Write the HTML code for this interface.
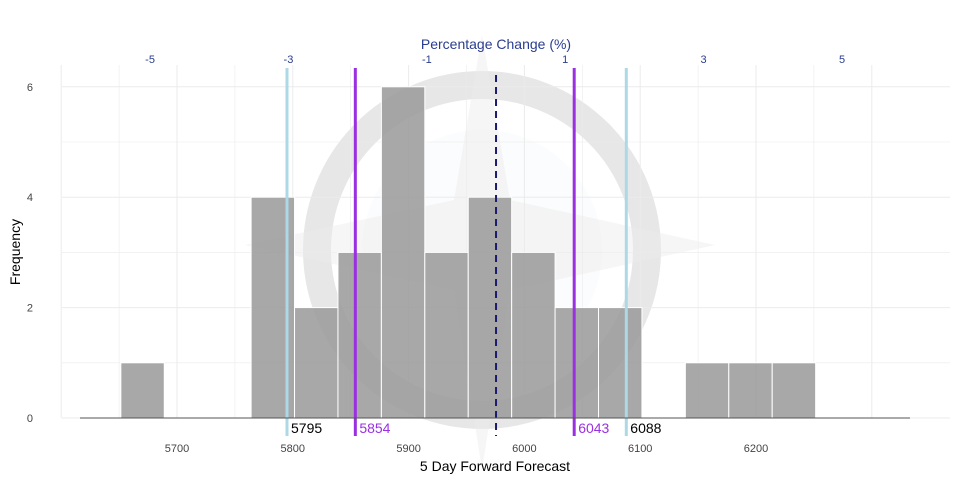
<!DOCTYPE html>
<html><head><meta charset="utf-8"><style>
body{margin:0;background:#fff;}
svg text{font-family:"Liberation Sans",sans-serif;}
</style></head><body>
<svg id="chart" width="960" height="480" xmlns="http://www.w3.org/2000/svg">
<g id="wm" opacity="0.35">
<circle cx="482" cy="250" r="165" fill="none" stroke="#bbb" stroke-width="28"/>
<circle cx="482" cy="250" r="120" fill="#e8eef5" opacity="0.5"/>
<polygon points="482,35 510,200 715,245 510,290 482,470 454,290 245,245 454,200" fill="#ccc" opacity="0.5"/>
</g>
<g id="grid"></g>
<g id="bars"></g>
<g id="lines"></g>
<g id="axes"></g>
<text x="496" y="49" text-anchor="middle" font-size="14" fill="#2a3d8f">Percentage Change (%)</text>
<text x="495" y="471" text-anchor="middle" font-size="14" fill="#000">5 Day Forward Forecast</text>
<text x="20" y="252" text-anchor="middle" font-size="14" fill="#000" transform="rotate(-90 20 252)">Frequency</text>
</svg>
<script>
const binStarts=[5651.5,5764,5801.5,5839,5876.5,5914,5951.5,5989,6026.5,6064,6139,6176.5,6214];
const binCounts=[1,4,2,3,6,3,4,3,2,2,1,1,1];
const binWidth=37.5;
const xTicks=[5700,5800,5900,6000,6100,6200];
const yTicks=[0,2,4,6];
const pctTicks=[-5,-3,-1,1,3,5];
const basePrice=5975.5;
const refLines=[5795,5854,6043,6088];
const refColors=["#add8e6","#9b30e0","#9b30e0","#add8e6"];
const refLabelColors=["#000","#9b30e0","#9b30e0","#000"];
const NS="http://www.w3.org/2000/svg";
const x=v=>177+(v-5700)*1.158;
const y=v=>418-v*55.2;
const pct=p=>x(basePrice*(1+p/100));
function mk(t,a,parent){const e=document.createElementNS(NS,t);for(const k in a)e.setAttribute(k,a[k]);document.getElementById(parent).appendChild(e);return e;}
for(let v=5600;v<=6300;v+=50){const g=mk('line',{x1:x(v),x2:x(v),y1:65,y2:418,stroke:'#ebebeb','stroke-width':v%100?0.6:1},'grid');

}
for(let v=0;v<=6.4;v+=1){const g=mk('line',{x1:62,x2:950,y1:y(v),y2:y(v),stroke:'#ebebeb','stroke-width':v%2?0.6:1},'grid');

}
binStarts.forEach((s,i)=>{const r=mk('rect',{x:x(s),y:y(binCounts[i]),width:binWidth*1.158,height:y(0)-y(binCounts[i]),fill:'#999','fill-opacity':0.85,stroke:'#fff','stroke-width':1},'bars');

});
const base=mk('line',{x1:80,x2:910,y1:418,y2:418,stroke:'#555','stroke-width':1},'axes');


refLines.forEach((v,i)=>{const l=mk('line',{x1:x(v),x2:x(v),y1:68,y2:436,stroke:refColors[i],'stroke-width':3},'lines');


const t=mk('text',{x:x(v)+4,y:433,'font-size':14,fill:refLabelColors[i]},'lines');t.textContent=v;

});
const d=mk('line',{x1:x(basePrice),x2:x(basePrice),y1:75,y2:436,stroke:'#1a1a6e','stroke-width':2,'stroke-dasharray':'7,5'},'lines');


xTicks.forEach(v=>{const t=mk('text',{x:x(v),y:452,'font-size':11,fill:'#444','text-anchor':'middle'},'axes');t.textContent=v;

});
yTicks.forEach(v=>{const t=mk('text',{x:33,y:y(v)+4,'font-size':11,fill:'#444','text-anchor':'end'},'axes');t.textContent=v;

});
pctTicks.forEach(p=>{const t=mk('text',{x:pct(p),y:63,'font-size':11,fill:'#2a3d8f','text-anchor':'middle'},'axes');t.textContent=p;

});
</script>
</body></html>
